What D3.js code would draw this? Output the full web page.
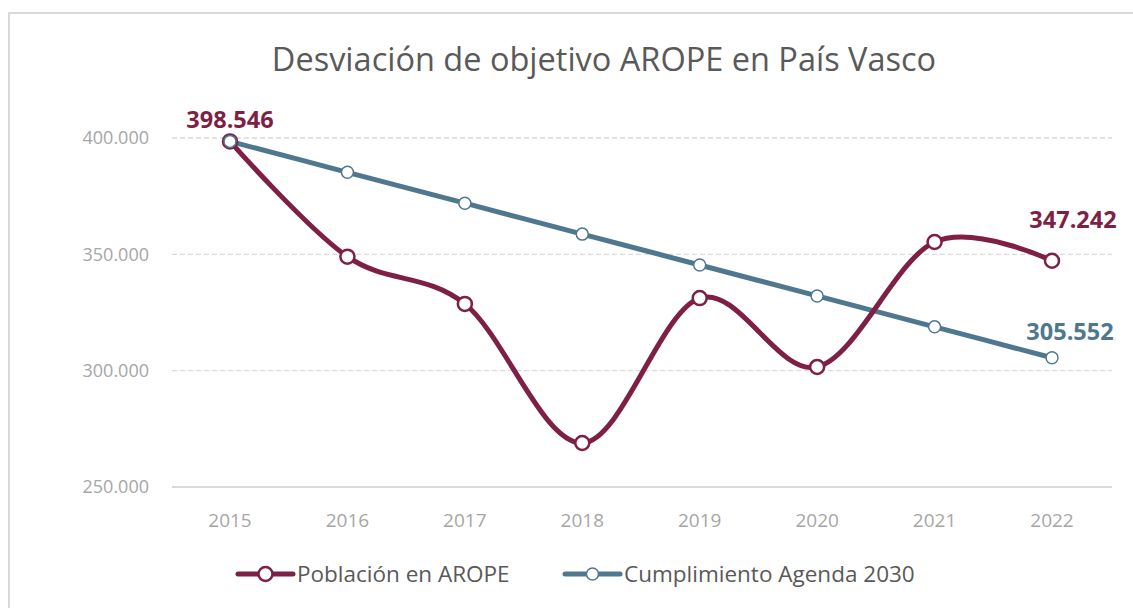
<!DOCTYPE html>
<html>
<head>
<meta charset="utf-8">
<script src="https://cdn.jsdelivr.net/npm/d3@7"></script>
<style>
  body { margin: 0; background: #fff; }
  svg { display: block; font-family: 'Open Sans', 'Noto Sans', sans-serif; }
</style>
</head>
<body>
<svg id="chart" width="1133" height="608"></svg>
<script>
// data
const years = [2015, 2016, 2017, 2018, 2019, 2020, 2021, 2022];
const arope = [398546, 349000, 328700, 268900, 331200, 301600, 355300, 347242];
const agenda = [398546, 385261, 371976, 358691, 345406, 332121, 318837, 305552];
const yTicks = [250000, 300000, 350000, 400000];
const seriesNames = ['Población en AROPE', 'Cumplimiento Agenda 2030'];

const maroon = '#7e1f45';
const blue = '#4f788f';
const fmt = d => d3.format(',')(d).replace(/,/g, '.');

const svg = d3.select('#chart');

// outer frame
svg.append('rect')
  .attr('x', 9).attr('y', 13)
  .attr('width', 1140).attr('height', 610)
  .attr('fill', 'none')
  .attr('stroke', '#d9d9d9')
  .attr('stroke-width', 2);

// title
svg.append('text')
  .attr('x', 604).attr('y', 71)
  .attr('text-anchor', 'middle')
  .attr('fill', '#595959')
  .attr('font-size', 32.5)
  .text('Desviación de objetivo AROPE en País Vasco');

const x = d3.scalePoint()
  .domain(years)
  .range([230, 1052]);

const y = d3.scaleLinear()
  .domain([250000, 400000])
  .range([487, 138]);

// gridlines
svg.append('g')
  .selectAll('line')
  .data(yTicks.filter(d => d > 250000))
  .enter().append('line')
    .attr('x1', 172).attr('x2', 1112)
    .attr('y1', d => y(d)).attr('y2', d => y(d))
    .attr('stroke', '#d9d9d9')
    .attr('stroke-width', 1.3)
    .attr('stroke-dasharray', '5,3');

// base axis line
svg.append('line')
  .attr('x1', 172).attr('x2', 1112)
  .attr('y1', y(250000)).attr('y2', y(250000))
  .attr('stroke', '#d9d9d9')
  .attr('stroke-width', 2);

// y labels
svg.append('g')
  .selectAll('text')
  .data(yTicks)
  .enter().append('text')
    .attr('x', 149)
    .attr('y', d => y(d))
    .attr('dy', '0.35em')
    .attr('text-anchor', 'end')
    .attr('fill', '#a6a6a6')
    .attr('font-size', 18)
    .text(fmt);

// x labels
svg.append('g')
  .selectAll('text')
  .data(years)
  .enter().append('text')
    .attr('x', d => x(d))
    .attr('y', 527)
    .attr('text-anchor', 'middle')
    .attr('fill', '#a6a6a6')
    .attr('font-size', 19)
    .text(d => d);

const line = d3.line()
  .x((d, i) => x(years[i]))
  .y(d => y(d))
  .curve(d3.curveCardinal.tension(0));

svg.append('path')
  .datum(agenda)
  .attr('fill', 'none')
  .attr('stroke', blue)
  .attr('stroke-width', 5)
  .attr('d', line);

svg.append('path')
  .datum(arope)
  .attr('fill', 'none')
  .attr('stroke', maroon)
  .attr('stroke-width', 5)
  .attr('d', line);

svg.append('g')
  .selectAll('circle')
  .data(agenda)
  .enter().append('circle')
    .attr('cx', (d, i) => x(years[i]))
    .attr('cy', d => y(d))
    .attr('r', 6)
    .attr('fill', '#fff')
    .attr('stroke', blue)
    .attr('stroke-width', 1.5);

svg.append('g')
  .selectAll('circle')
  .data(arope)
  .enter().append('circle')
    .attr('cx', (d, i) => x(years[i]))
    .attr('cy', d => y(d))
    .attr('r', 7)
    .attr('fill', '#fff')
    .attr('stroke', maroon)
    .attr('stroke-width', 2.5);

// the 2015 agenda marker sits on top in the reference
svg.append('circle')
  .attr('cx', x(years[0]))
  .attr('cy', y(agenda[0]))
  .attr('r', 6)
  .attr('fill', '#fff')
  .attr('stroke', blue)
  .attr('stroke-width', 1.5);

// data labels
const labels = [
  { v: arope[0], i: 0, color: maroon, dx: 0, dy: -13 },
  { v: arope[7], i: 7, color: maroon, dx: 21, dy: -33 },
  { v: agenda[7], i: 7, color: blue, dx: 18, dy: -18 }
];
svg.append('g')
  .selectAll('text')
  .data(labels)
  .enter().append('text')
    .attr('x', d => x(years[d.i]) + d.dx)
    .attr('y', d => y(d.v) + d.dy)
    .attr('text-anchor', 'middle')
    .attr('fill', d => d.color)
    .attr('font-size', 23.5)
    .attr('font-weight', 'bold')
    .text(d => fmt(d.v));

// legend
const legend = [
  { name: seriesNames[0], color: maroon, x: 238, r: 7, sw: 2.5 },
  { name: seriesNames[1], color: blue, x: 565, r: 6, sw: 1.5 }
];
const lg = svg.append('g').selectAll('g')
  .data(legend)
  .enter().append('g')
    .attr('transform', d => `translate(${d.x},574)`);
lg.append('line')
  .attr('x1', 0).attr('x2', 55)
  .attr('stroke', d => d.color)
  .attr('stroke-width', 5)
  .attr('stroke-linecap', 'round');
lg.append('circle')
  .attr('cx', 27.5)
  .attr('r', d => d.r)
  .attr('fill', '#fff')
  .attr('stroke', d => d.color)
  .attr('stroke-width', d => d.sw);
lg.append('text')
  .attr('x', 59)
  .attr('dy', '0.35em')
  .attr('fill', '#595959')
  .attr('font-size', 22.5)
  .text(d => d.name);
</script>
</body>
</html>
